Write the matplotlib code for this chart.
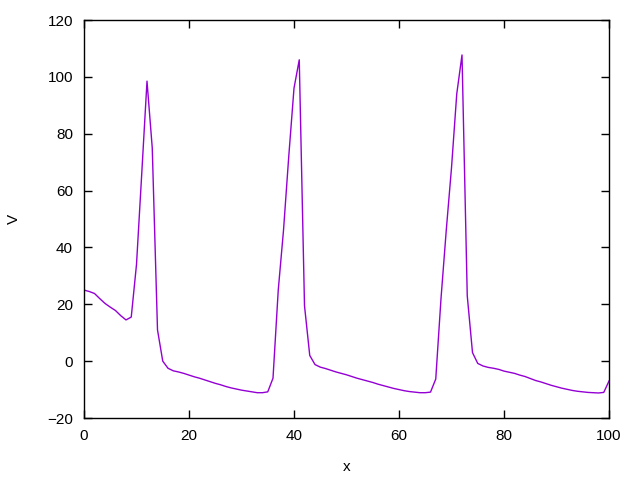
import matplotlib
matplotlib.use("Agg")
import matplotlib.pyplot as plt
import numpy as np

x = list(range(0, 101))
V = [25, 24.5, 23.8, 22, 20.3, 19, 17.8, 16, 14.5, 15.5,
     34, 66, 98.5, 75, 11, 0, -2.5, -3.4, -3.8, -4.3,
     -4.9, -5.5, -6.0, -6.6, -7.2, -7.8, -8.3, -8.9, -9.4, -9.8,
     -10.2, -10.5, -10.8, -11.1, -11.1, -10.8, -6, 25, 46, 72,
     96, 106, 19.5, 2, -1.2, -2.1, -2.6, -3.2, -3.8, -4.3,
     -4.8, -5.4, -6.0, -6.5, -7.0, -7.5, -8.1, -8.6, -9.1, -9.6,
     -10.0, -10.4, -10.7, -10.9, -11.1, -11.1, -10.9, -6.3, 22, 46,
     68, 94, 107.7, 23, 3, -0.8, -1.7, -2.2, -2.5, -2.9,
     -3.5, -3.9, -4.3, -4.9, -5.4, -6.1, -6.8, -7.3, -7.9, -8.5,
     -9.0, -9.5, -9.9, -10.3, -10.6, -10.8, -11.0, -11.1, -11.2, -11.0,
     -7]

xticks = [0, 20, 40, 60, 80, 100]
yticks = [-20, 0, 20, 40, 60, 80, 100, 120]

plt.rcParams['font.family'] = ['Liberation Sans', 'DejaVu Sans']
fig = plt.figure(figsize=(6.4, 4.8), dpi=100)
ax = fig.add_axes([84/640, 62/480, 525/640, 398/480])
ax.plot(x, V, color='#9400D3', lw=1.0)
ax.set_xlim(0, 100)
ax.set_ylim(-20, 120)
ax.set_xticks(xticks)
ax.set_yticks(yticks)
ax.tick_params(direction='in', top=True, right=True, length=6, width=1,
               labelsize=11, colors='black', pad=8)
for s in ax.spines.values():
    s.set_linewidth(1)
ax.set_xlabel('x', fontsize=11, labelpad=12)
ax.set_ylabel('V', fontsize=11, labelpad=19)
fig.savefig('out.png', dpi=100)
